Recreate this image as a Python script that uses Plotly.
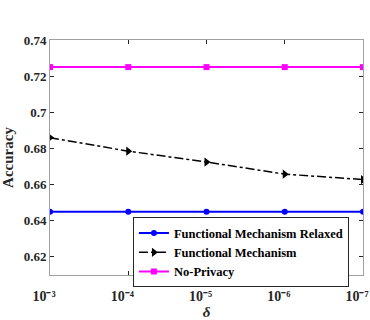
import plotly.graph_objects as go

x_pos = [0, 1, 2, 3, 4]
tick_labels = ["<b>10⁻³</b>", "<b>10⁻⁴</b>", "<b>10⁻⁵</b>", "<b>10⁻⁶</b>", "<b>10⁻⁷</b>"]
fm_relaxed = [0.645, 0.645, 0.645, 0.645, 0.645]
fm = [0.686, 0.6785, 0.6725, 0.6658, 0.6628]
no_privacy = [0.725, 0.725, 0.725, 0.725, 0.725]
y_ticks = [0.62, 0.64, 0.66, 0.68, 0.70, 0.72, 0.74]
y_tick_text = ["<b>0.62</b>", "<b>0.64</b>", "<b>0.66</b>", "<b>0.68</b>", "<b>0.7</b>", "<b>0.72</b>", "<b>0.74</b>"]

font_family = "Liberation Serif"
fig = go.Figure()
fig.add_trace(go.Scatter(x=x_pos, y=fm_relaxed, mode="lines+markers", name="<b>Functional Mechanism Relaxed</b>",
                         line=dict(color="#0000ff", width=2), marker=dict(symbol="circle", size=6, color="#0000ff")))
fig.add_trace(go.Scatter(x=x_pos, y=fm, mode="lines+markers", name="<b>Functional Mechanism</b>",
                         line=dict(color="black", width=1.5, dash="dashdot"),
                         marker=dict(symbol="triangle-right", size=8, color="black")))
fig.add_trace(go.Scatter(x=x_pos, y=no_privacy, mode="lines+markers", name="<b>No-Privacy</b>",
                         line=dict(color="#ff00ff", width=2), marker=dict(symbol="square", size=6, color="#ff00ff")))

fig.update_layout(
    width=370, height=320,
    margin=dict(l=50, r=7, t=40, b=45),
    paper_bgcolor="white", plot_bgcolor="white",
    font=dict(family=font_family, color="#262626", size=13),
    legend=dict(x=0.265, y=0.245, xanchor="left", yanchor="top",
                bordercolor="#262626", borderwidth=1, bgcolor="white",
                font=dict(family=font_family, size=12.5, color="black"),
                itemwidth=30, tracegroupgap=0),
    xaxis=dict(range=[0, 4], tickvals=x_pos, ticktext=tick_labels, automargin=False,
               showline=True, linecolor="#a0a0a0", mirror="ticks", ticks="inside",
               tickcolor="#262626", ticklen=4, showgrid=False, zeroline=False,
               ticklabeloverflow="allow", ticklabelstandoff=8, ticklabelshift=-6,
               title=dict(text="<b><i>δ</i></b>", font=dict(size=15, family=font_family), standoff=0),
               tickfont=dict(size=14, family=font_family)),
    yaxis=dict(range=[0.61, 0.74], tickvals=y_ticks, ticktext=y_tick_text, automargin=False,
               showline=True, linecolor="#a0a0a0", mirror="ticks", ticks="inside",
               tickcolor="#262626", ticklen=4, showgrid=False, zeroline=False,
               title=dict(text="<b>Accuracy</b>", font=dict(size=15, family=font_family), standoff=6),
               tickfont=dict(size=13, family=font_family)),
    showlegend=True,
)
fig.write_html("out.html", config={"displayModeBar": False},
               post_script="document.body.style.margin='0';")
